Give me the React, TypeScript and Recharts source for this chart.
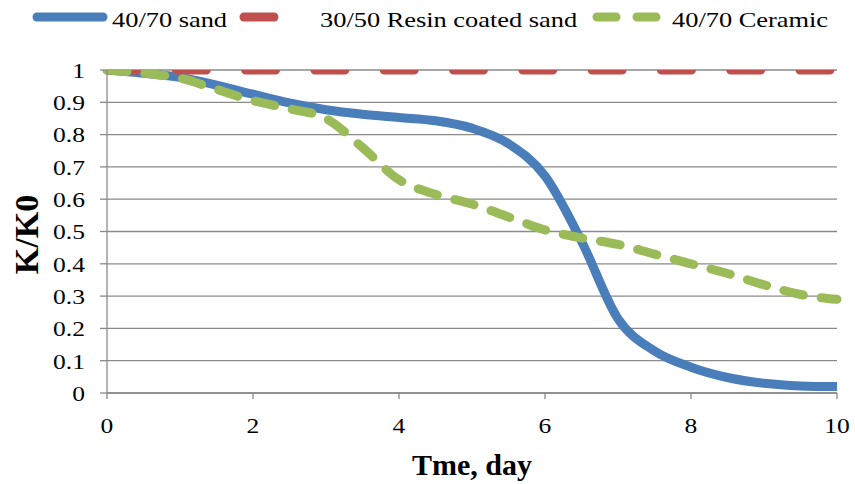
import { CartesianGrid, Label, Legend, Line, LineChart, XAxis, YAxis } from "recharts";

const days = [0, 0.5, 1, 1.5, 2, 2.5, 3, 3.5, 4, 4.5, 5, 5.5, 6, 6.5, 7, 7.5, 8, 8.5, 9, 9.5, 10];
const sand4070 = [1.0, 0.99, 0.977, 0.953, 0.925, 0.898, 0.877, 0.863, 0.853, 0.843, 0.82, 0.772, 0.672, 0.47, 0.23, 0.13, 0.08, 0.048, 0.03, 0.022, 0.02];
const resin3050 = [1, 1, 1, 1, 1, 1, 1, 1, 1, 1, 1, 1, 1, 1, 1, 1, 1, 1, 1, 1, 1];
const ceramic4070 = [1.0, 0.99, 0.975, 0.94, 0.905, 0.88, 0.85, 0.76, 0.66, 0.615, 0.585, 0.545, 0.505, 0.48, 0.46, 0.43, 0.4, 0.37, 0.335, 0.305, 0.29];

const xTicks = [0, 2, 4, 6, 8, 10];
const yTicks = [0, 0.1, 0.2, 0.3, 0.4, 0.5, 0.6, 0.7, 0.8, 0.9, 1];

const data = days.map((day, i) => ({
  day,
  sand: sand4070[i],
  resin: resin3050[i],
  ceramic: ceramic4070[i]
}));

const serif = "Liberation Serif, Times New Roman, serif";
const gray = "#8a8a8a";
const stretch = 1.16;

// legend item positions, copied from the original layout
const legendSpots: Record<string, { x1: number; x2: number; dash?: string; text: number }> = {
  "40/70 sand": { x1: 37, x2: 103, text: 112 },
  "30/50 Resin coated sand": { x1: 244, x2: 274, text: 320 },
  "40/70 Ceramic": { x1: 597, x2: 656, dash: "19 21", text: 672 }
};

const labelStyle = { fontFamily: serif, fontSize: 22, fill: "#000" };

function XTick({ x, y, payload }: any) {
  return (
    <text transform={`translate(${x},${y}) scale(${stretch},1)`} textAnchor="middle" dy="0.71em" style={labelStyle}>
      {payload.value}
    </text>
  );
}

function YTick({ x, y, payload }: any) {
  return (
    <text transform={`translate(${x},${y}) scale(${stretch},1)`} textAnchor="end" dy="0.355em" style={labelStyle}>
      {payload.value}
    </text>
  );
}

function LegendRow({ payload }: any) {
  return (
    <svg width={855} height={36}>
      {(payload || []).map((entry: any) => {
        const spot = legendSpots[entry.value];
        if (!spot) return null;
        return (
          <g key={entry.value}>
            <line x1={spot.x1} x2={spot.x2} y1={17} y2={17} stroke={entry.color} strokeWidth={9} strokeLinecap="round" strokeDasharray={spot.dash} />
            <text transform={`translate(${spot.text},27) scale(1.2,1)`} style={labelStyle}>
              {entry.value}
            </text>
          </g>
        );
      })}
    </svg>
  );
}

function YTitle({ viewBox }: any) {
  const cx = viewBox.x + 38;
  const cy = viewBox.y + viewBox.height / 2 + 3;
  return (
    <text x={cx} y={cy} transform={`rotate(-90, ${cx}, ${cy})`} textAnchor="middle" style={{ fontFamily: serif, fontSize: 34, fontWeight: "bold", fill: "#000" }}>
      K/K0
    </text>
  );
}

export default function App() {
  return (
    <div style={{ position: "absolute", left: 0, top: 0, width: 855, height: 484, background: "#fff", fontFamily: serif }}>
      <LineChart width={855} height={484} data={data} margin={{ top: 70, right: 18, bottom: 0, left: 0 }}>
        <CartesianGrid stroke={gray} strokeWidth={1.3} vertical={false} />
        <XAxis
          dataKey="day"
          type="number"
          domain={[0, 10]}
          ticks={xTicks}
          height={91}
          stroke={gray}
          strokeWidth={1.3}
          tickSize={6}
          tickMargin={18}
          tick={<XTick />}
        >
          <Label value="Tme, day" position="insideBottom" offset={9} fontSize={30} fontWeight="bold" fontFamily={serif} fill="#000" />
        </XAxis>
        <YAxis
          type="number"
          domain={[0, 1]}
          allowDataOverflow
          ticks={yTicks}
          width={107}
          stroke={gray}
          strokeWidth={1.3}
          tickSize={7}
          tickMargin={15}
          tick={<YTick />}
        >
          <Label content={<YTitle />} />
        </YAxis>
        <Legend layout="vertical" align="center" verticalAlign="middle" content={<LegendRow />} wrapperStyle={{ top: 0, left: 0, width: 855, height: 36 }} />
        <Line name="40/70 sand" type="monotone" dataKey="sand" stroke="#4a7ebb" strokeWidth={9} dot={false} activeDot={false} isAnimationActive={false} />
        <Line name="30/50 Resin coated sand" type="monotone" dataKey="resin" stroke="#c0504d" strokeWidth={9} strokeDasharray="30 39.3" strokeLinecap="round" dot={false} activeDot={false} isAnimationActive={false} />
        <Line name="40/70 Ceramic" type="monotone" dataKey="ceramic" stroke="#9bbb59" strokeWidth={9} strokeDasharray="20 18" strokeLinecap="round" dot={false} activeDot={false} isAnimationActive={false} />
      </LineChart>
    </div>
  );
}
